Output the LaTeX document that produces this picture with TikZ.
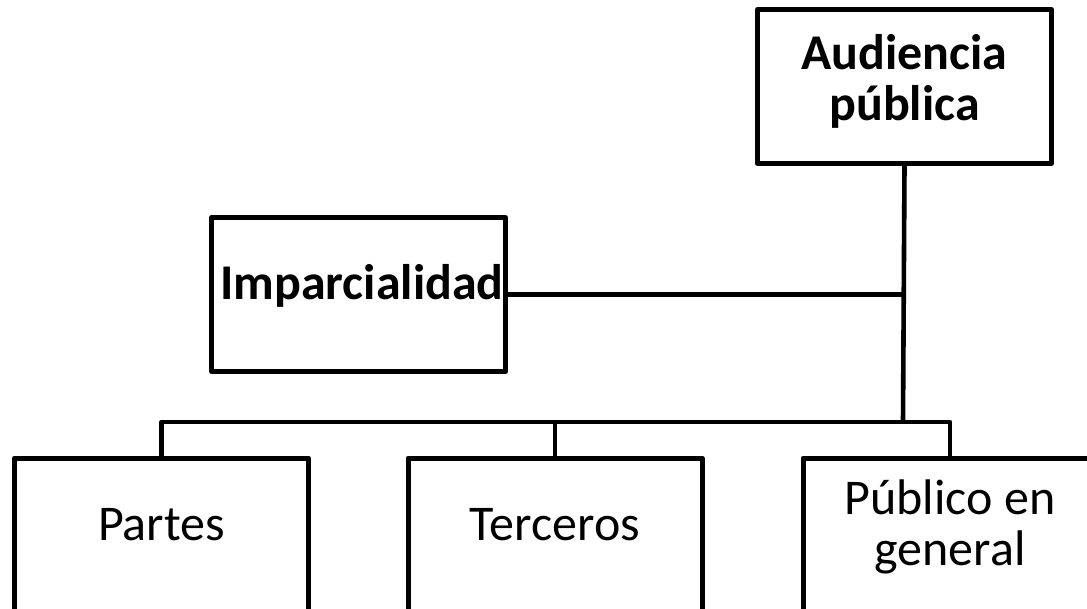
\documentclass[tikz,border=0pt]{standalone}
\usepackage{fontspec}
\setmainfont{Carlito}
\begin{document}
\begin{tikzpicture}[x=1pt,y=-1pt,
  boxnode/.style={draw=black,line width=5pt,line join=round,minimum width=294pt,minimum height=154pt,inner sep=0pt},
  txt/.style={font=\fontsize{50}{51}\selectfont,align=center,inner sep=0pt},
  btxt/.style={txt,font=\fontsize{50}{51}\selectfont\bfseries},
  conn/.style={line width=4.6pt,line join=round}]
\useasboundingbox (0,0) rectangle (1087,609);
\clip (0,0) rectangle (1087,609);
\fill[white] (0,0) rectangle (1087,609);
\node[boxnode] (aud) at (904.5,86.5) {};
\node[boxnode] (imp) at (358.5,294.5) {};
\node[boxnode] (par) at (161.5,535) {};
\node[boxnode] (ter) at (555,535) {};
\node[boxnode] (pub) at (950,535) {};
\node[btxt] (audt) at (904.5,81.5) {Audiencia\\pública};
\node[btxt,anchor=base] (impt) at (362,300) {Imparcialidad};
\node[txt,anchor=base] (part) at (161.5,540) {Partes};
\node[txt,anchor=base] (tert) at (555,540) {Terceros};
\node[txt] (pubt) at (950,527) {Público en\\general};
\coordinate (bus) at (903,422);
\draw[conn] (aud.south) -- (bus);
\draw[conn] (imp.east) -- (aud.south |- imp.east);
\draw[conn] (par.north) |- (pub.north |- bus) -- (pub.north);
\draw[conn] (ter.north) -- (ter.north |- bus);
\end{tikzpicture}
\end{document}
